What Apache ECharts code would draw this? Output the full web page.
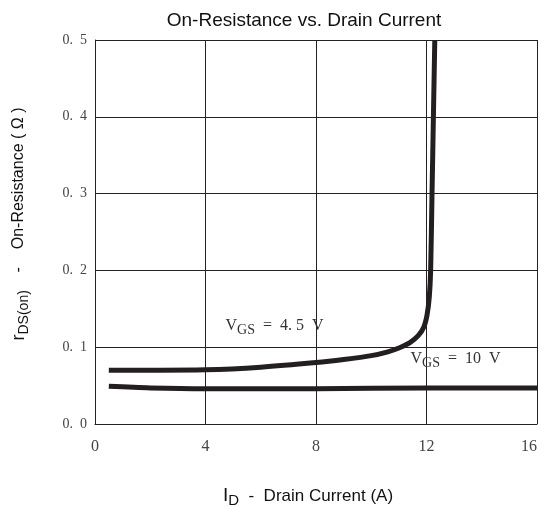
<!DOCTYPE html>
<html><head><meta charset="utf-8">
<script src="https://cdn.jsdelivr.net/npm/echarts@6/dist/echarts.min.js"></script>
<style>html,body{margin:0;padding:0;background:#fff}#c{width:540px;height:506px}</style>
</head><body><div id="c"></div>
<script>
const title = "On-Resistance vs. Drain Current";
const xTicks = [0, 4, 8, 12, 16];
const yTicks = [0, 0.1, 0.2, 0.3, 0.4, 0.5];
const vgs45 = [[0.5,0.070],[2,0.070],[4,0.0705],[6,0.074],[8,0.080],[9,0.084],[10,0.089],[10.6,0.094],[11.0,0.099],[11.4,0.106],[11.7,0.115],[11.9,0.126],[12.02,0.142],[12.1,0.165],[12.15,0.2],[12.2,0.3],[12.25,0.4],[12.3,0.5]];
const vgs10 = [[0.5,0.049],[2,0.047],[4,0.046],[8,0.046],[12,0.047],[16,0.047]];
const labels = [
  {sub:"GS", tail:"  =  4. 5  V", at:[6.5, 0.128]},
  {sub:"GS", tail:"  =  10  V", at:[13.05, 0.085]}
];
const serif = "'Liberation Serif','DejaVu Serif',serif";
const sans = "'Liberation Sans',Arial,sans-serif";
const chart = echarts.init(document.getElementById('c'));
const lineStyle = {color:'#231f20', width:5};
const labelRich = {
  v:{fontFamily:serif,fontSize:16,color:'#333'},
  g:{fontFamily:serif,fontSize:14,color:'#333',padding:[9,0,0,0]},
  t:{fontFamily:serif,fontSize:16,color:'#333'}
};
function mp(l){
  return {symbol:'circle', symbolSize:0, data:[{coord:l.at, label:{show:true, position:'inside',
    formatter:'{v|V}{g|'+l.sub+'}{t|'+l.tail+'}', rich:labelRich}}]};
}
chart.setOption({
  animation:false,
  title:{text:title, left:299, top:6, textAlign:'center', textStyle:{fontFamily:sans, fontSize:19, fontWeight:'normal', color:'#111'}},
  grid:{left:95, right:3, top:40, bottom:82, containLabel:false, outerBoundsMode:'none'},
  xAxis:{type:'value', min:0, max:16, interval:4,
    axisLine:{lineStyle:{color:'#222', width:1}}, axisTick:{show:false},
    splitLine:{lineStyle:{color:'#222', width:1}},
    axisLabel:{fontFamily:serif, fontSize:16, color:'#444', margin:15, alignMaxLabel:'right',
      formatter:v=>xTicks.includes(v)?String(v):''},
    name:'{i|I}{s|D}{t|  -  Drain Current (A)}', nameLocation:'middle', nameGap:60,
    nameTextStyle:{padding:[0,16,0,0], rich:{
      i:{fontFamily:sans, fontSize:19, color:'#111'},
      s:{fontFamily:sans, fontSize:15, color:'#111', padding:[9,0,0,0]},
      t:{fontFamily:sans, fontSize:17, color:'#111'}}}
  },
  yAxis:{type:'value', min:0, max:0.5, interval:0.1,
    axisLine:{show:true, lineStyle:{color:'#222', width:1}}, axisTick:{show:false},
    splitLine:{lineStyle:{color:'#222', width:1}},
    axisLabel:{fontFamily:serif, fontSize:14, color:'#444', margin:8,
      formatter:v=>v.toFixed(1).replace('.', '.  ')},
    name:'{i|r}{s|DS(on)}{t|    -    On-Resistance ( Ω )}', nameLocation:'middle', nameGap:64, nameRotate:90,
    nameTextStyle:{padding:[0,0,0,16], rich:{
      i:{fontFamily:sans, fontSize:18, color:'#111'},
      s:{fontFamily:sans, fontSize:14, color:'#111', padding:[10,0,0,0]},
      t:{fontFamily:sans, fontSize:16, color:'#111'}}}
  },
  series:[
    {type:'line', data:vgs45, showSymbol:false, smooth:0.25, lineStyle, z:3, markPoint:mp(labels[0])},
    {type:'line', data:vgs10, showSymbol:false, smooth:0.3, lineStyle, z:3, markPoint:mp(labels[1])}
  ]
});
</script></body></html>
